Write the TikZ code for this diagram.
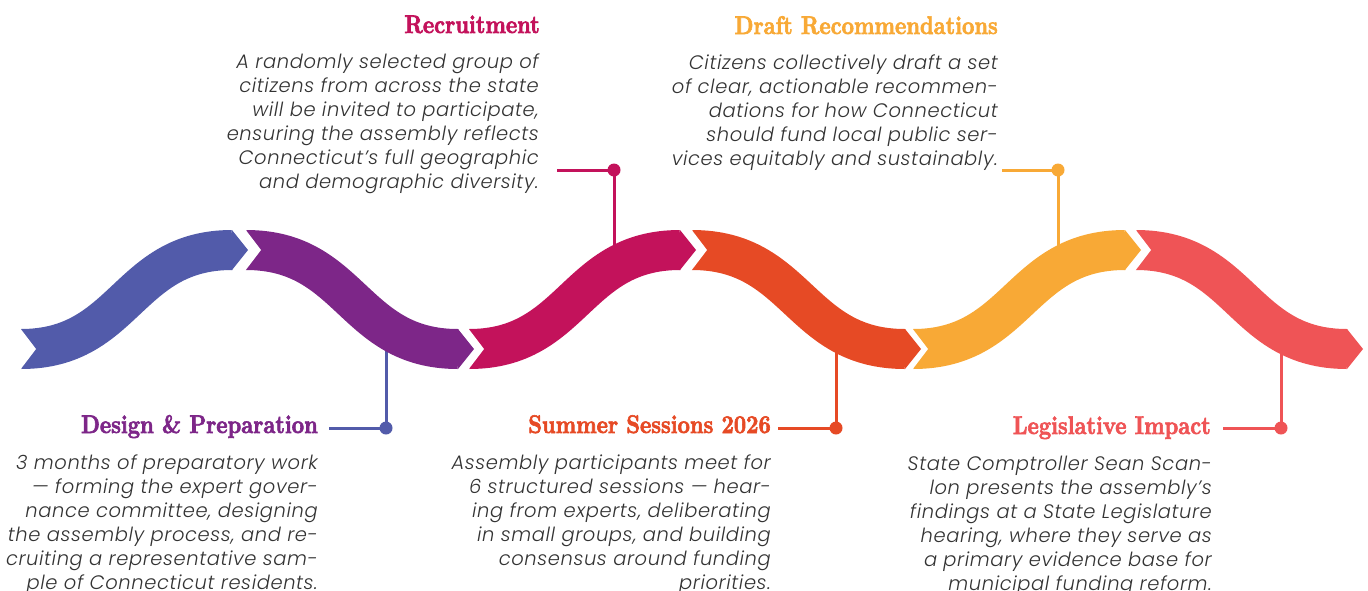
\documentclass[tikz,border=0pt]{standalone}
\usepackage{fontspec}
\newfontfamily\headfont[Extension=.otf, FakeStretch=0.84, FakeBold=2.4]{lmroman10-bold}
\newfontfamily\bodyfont[UprightFont=* Light, ItalicFont=* Light Italic, LetterSpace=3]{Poppins}
\definecolor{cblue}{HTML}{525BAA}
\definecolor{cpurple}{HTML}{7D2688}
\definecolor{cmagenta}{HTML}{C3125B}
\definecolor{corange}{HTML}{E64A25}
\definecolor{cyellow}{HTML}{F8A936}
\definecolor{cred}{HTML}{EF5456}
\definecolor{ctext}{HTML}{333333}
\newcommand\topstrut{\vrule width 0pt height 18pt}
\begin{document}
\begin{tikzpicture}[x=1pt,y=-1pt,
  heading/.style={inner sep=0pt, anchor=base east, font=\headfont\fontsize{25.5}{30}\selectfont},
  body/.style={inner sep=0pt, anchor=north east, align=right, text=ctext,
    font=\bodyfont\itshape\fontsize{19.5}{24}\selectfont},
  conn/.style={line width=3pt},
  dot/.style={circle, inner sep=0pt, minimum size=13pt}]
\useasboundingbox (0,0) rectangle (1368,590);

% connectors (behind the wave)
\coordinate (dpBand) at (386,330);
\coordinate (dpEnd) at (329,428);
\node[dot, fill=cblue] (dpDot) at (386,428) {};
\draw[conn, cblue] (dpBand) -- (dpDot.center) -- (dpEnd);

\coordinate (reBand) at (614,280);
\coordinate (reEnd) at (557,170);
\node[dot, fill=cmagenta] (reDot) at (614,170) {};
\draw[conn, cmagenta] (reBand) -- (reDot.center) -- (reEnd);

\coordinate (ssBand) at (836,330);
\coordinate (ssEnd) at (778,428);
\node[dot, fill=corange] (ssDot) at (836,428) {};
\draw[conn, corange] (ssBand) -- (ssDot.center) -- (ssEnd);

\coordinate (drBand) at (1058,280);
\coordinate (drEnd) at (1002,170);
\node[dot, fill=cyellow] (drDot) at (1058,170) {};
\draw[conn, cyellow] (drBand) -- (drDot.center) -- (drEnd);

\coordinate (liBand) at (1281,330);
\coordinate (liEnd) at (1223,428);
\node[dot, fill=cred] (liDot) at (1281,428) {};
\draw[conn, cred] (liBand) -- (liDot.center) -- (liEnd);

% wave bodies
\foreach \xs/\xe/\ya/\yb/\c in {21/232/349/250/cblue, 246/458/250/349/cpurple,
   469/680/349/250/cmagenta, 692/905/250/349/corange,
   913/1125/349/250/cyellow, 1136/1347/250/349/cred}{
  \draw[line width=40pt, draw=\c] (\xs,\ya) .. controls ({(\xs+\xe)/2},\ya) and ({(\xs+\xe)/2},\yb) .. (\xe,\yb);
  \fill[white] (\xs-1,\ya-21) -- (\xs+15,\ya) -- (\xs-1,\ya+21) -- cycle;
}
% arrow tips
\foreach \xe/\yb/\c in {232/250/cblue, 458/349/cpurple, 680/250/cmagenta,
   905/349/corange, 1125/250/cyellow, 1347/349/cred}{
  \fill[\c] (\xe-0.5,\yb-20) -- (\xe,\yb-20) -- (\xe+16,\yb) -- (\xe,\yb+20) -- (\xe-0.5,\yb+20) -- cycle;
}

% headings
\node[heading, text=cmagenta] (reHead) at (540,33) {Recruitment};
\node[heading, text=cyellow] (drHead) at (998,34) {Draft Recommendations};
\node[heading, text=cpurple] (dpHead) at (318,433) {Design \& Preparation};
\node[heading, text=corange] (ssHead) at (771,433) {Summer Sessions 2026};
\node[heading, text=cred] (liHead) at (1211,434) {Legislative Impact};

% bodies
\node[body] (reBody) at (539,50) {\topstrut A randomly selected group of\\
citizens from across the state\\
will be invited to participate,\\
ensuring the assembly reflects\\
Connecticut’s full geographic\\
and demographic diversity.};
\node[body] (drBody) at (998,51) {\topstrut Citizens collectively draft a set\\
of clear, actionable recommen-\\
dations for how Connecticut\\
should fund local public ser-\\
vices equitably and sustainably.};
\node[body] (dpBody) at (318,451) {\topstrut 3 months of preparatory work\\
— forming the expert gover-\\
nance committee, designing\\
the assembly process, and re-\\
cruiting a representative sam-\\
ple of Connecticut residents.};
\node[body] (ssBody) at (771,451) {\topstrut Assembly participants meet for\\
6 structured sessions — hear-\\
ing from experts, deliberating\\
in small groups, and building\\
consensus around funding\\
priorities.};
\node[body] (liBody) at (1212,452) {\topstrut State Comptroller Sean Scan-\\
lon presents the assembly’s\\
findings at a State Legislature\\
hearing, where they serve as\\
a primary evidence base for\\
municipal funding reform.};
\end{tikzpicture}
\end{document}
